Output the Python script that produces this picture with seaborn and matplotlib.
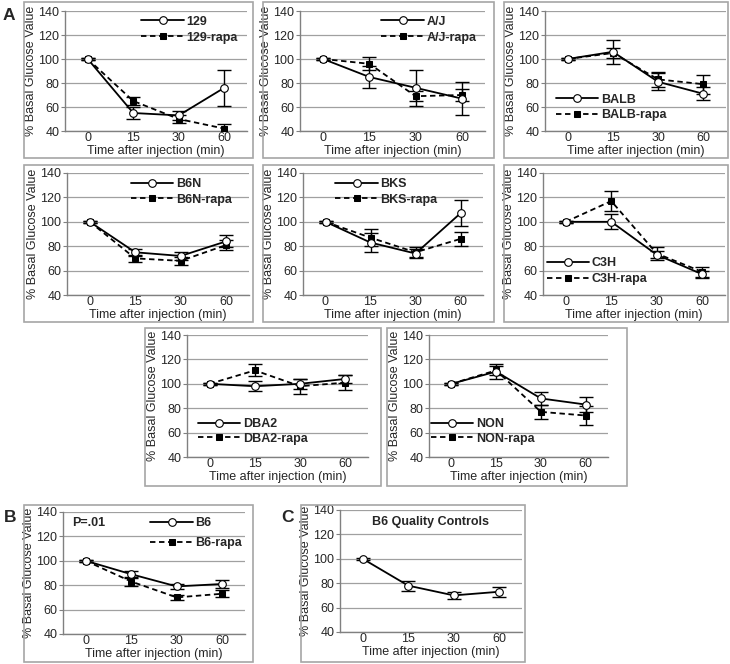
import numpy as np
import matplotlib
matplotlib.use("Agg")
import matplotlib.pyplot as plt
from matplotlib.patches import Rectangle
import seaborn as sns

# Data: mean and error for each strain
times = ["0", "15", "30", "60"]

s129 = [100, 55, 53, 76]
s129_err = [1, 5, 4, 15]
s129_rapa = [100, 65, 50, 42]
s129_rapa_err = [1, 3, 3, 4]

aj = [100, 85, 76, 67]
aj_err = [1, 9, 15, 13.5]
aj_rapa = [100, 96, 69, 70]
aj_rapa_err = [1, 5.5, 4, 5]

balb = [100, 106, 81, 71]
balb_err = [1, 10, 7, 5.5]
balb_rapa = [100, 105, 83, 79]
balb_rapa_err = [1, 4.5, 6, 8]

b6n = [100, 75, 72, 84]
b6n_err = [1, 3, 3, 5]
b6n_rapa = [100, 70, 68, 81]
b6n_rapa_err = [1, 3, 3, 4]

bks = [100, 83, 74, 107]
bks_err = [1, 8, 4, 10.5]
bks_rapa = [100, 87, 75, 86]
bks_rapa_err = [1, 7, 4, 5.5]

c3h = [100, 100, 73, 57]
c3h_err = [1, 6, 3, 3]
c3h_rapa = [100, 117, 74, 59]
c3h_rapa_err = [1, 8, 5, 4]

dba2 = [100, 98, 100, 104]
dba2_err = [1, 4, 4, 3]
dba2_rapa = [100, 111, 98, 101]
dba2_rapa_err = [1, 5, 6, 6]

non = [100, 110, 88, 83]
non_err = [1, 6, 5, 6]
non_rapa = [100, 111, 77, 74]
non_rapa_err = [1, 4, 6, 8]

b6 = [100, 89, 79, 81]
b6_err = [1, 3, 2, 3]
b6_rapa = [100, 83, 70, 73]
b6_rapa_err = [1, 4, 2, 3]

b6_qc = [100, 78, 70, 73]
b6_qc_err = [1, 4, 3, 4]

W, H = 730, 664
FS = 9
sns.set_style("white")
plt.rcParams["font.family"] = ["Liberation Sans", "DejaVu Sans"]

fig = plt.figure(figsize=(W / 100, H / 100), dpi=100)
xpos = np.arange(len(times))


def box(x0, y0, x1, y1):
    fig.add_artist(Rectangle((x0 / W, 1 - y1 / H), (x1 - x0) / W, (y1 - y0) / H,
                             transform=fig.transFigure, fill=False,
                             ec="#a6a6a6", lw=1.2))


def panel(l, r, t, b, series, leg=None):
    ax = fig.add_axes([l / W, 1 - b / H, (r - l) / W, (b - t) / H])
    for name, vals, err, dashed in series:
        if dashed:
            sns.lineplot(x=xpos, y=vals, ax=ax, color="k", lw=1.3,
                         linestyle=(0, (3, 2)), marker="s", markersize=5,
                         mfc="k", mec="k", label=name, zorder=3)
        else:
            sns.lineplot(x=xpos, y=vals, ax=ax, color="k", lw=1.3,
                         linestyle="-", marker="o", markersize=5.5,
                         mfc="white", mec="k", mew=0.8, label=name, zorder=4)
        ax.errorbar(xpos, vals, yerr=err, fmt="none", ecolor="k",
                    elinewidth=1, capsize=5, capthick=1, zorder=2)
    ax.set_xlim(-0.5, 3.5)
    ax.set_ylim(40, 140)
    ax.set_yticks(range(40, 141, 20))
    ax.set_xticks(xpos)
    ax.set_xticklabels(times)
    ax.set_xticks([0.5, 1.5, 2.5, 3.5], minor=True)
    ax.tick_params(axis="x", which="major", length=0, pad=1, labelsize=FS)
    ax.tick_params(axis="x", which="minor", length=3, color="#808080",
                   direction="out")
    ax.tick_params(axis="y", length=3, color="#808080", direction="out",
                   pad=1, labelsize=FS, left=True)
    ax.grid(axis="y", color="#a0a0a0", lw=0.9)
    ax.set_axisbelow(True)
    for s in ["top", "right"]:
        ax.spines[s].set_visible(False)
    for s in ["left", "bottom"]:
        ax.spines[s].set_color("#808080")
        ax.spines[s].set_linewidth(1)
    ax.set_xlabel("Time after injection (min)", fontsize=FS, labelpad=0.5)
    ax.set_ylabel("% Basal Glucose Value", fontsize=FS, labelpad=1)
    if leg is not None:
        ax.legend(loc=leg[0], bbox_to_anchor=leg[1], frameon=False,
                  prop={"weight": "bold", "size": FS}, handlelength=3.4,
                  handletextpad=0.2, labelspacing=leg[2], borderaxespad=0,
                  borderpad=0)
    elif ax.get_legend():
        ax.get_legend().remove()
    return ax


# row 1
box(24, 2, 253, 158)
panel(65, 247, 11, 131,
      [("129", s129, s129_err, False), ("129-rapa", s129_rapa, s129_rapa_err, True)],
      ("upper left", (0.42, 0.96), 0.3))
box(263, 2, 494, 158)
panel(300, 485, 11, 131,
      [("A/J", aj, aj_err, False), ("A/J-rapa", aj_rapa, aj_rapa_err, True)],
      ("upper left", (0.44, 0.96), 0.3))
box(504, 2, 728, 158)
panel(545, 726, 11, 131,
      [("BALB", balb, balb_err, False), ("BALB-rapa", balb_rapa, balb_rapa_err, True)],
      ("lower left", (0.06, 0.08), 0.3))

# row 2
box(24, 165, 253, 322)
panel(67, 249, 173, 295,
      [("B6N", b6n, b6n_err, False), ("B6N-rapa", b6n_rapa, b6n_rapa_err, True)],
      ("upper left", (0.35, 0.96), 0.3))
box(263, 165, 494, 322)
panel(303, 483, 173, 295,
      [("BKS", bks, bks_err, False), ("BKS-rapa", bks_rapa, bks_rapa_err, True)],
      ("upper left", (0.18, 0.96), 0.3))
box(504, 165, 728, 322)
panel(543, 725, 173, 295,
      [("C3H", c3h, c3h_err, False), ("C3H-rapa", c3h_rapa, c3h_rapa_err, True)],
      ("lower left", (0.02, 0.08), 0.3))

# row 3
box(145, 328, 381, 486)
panel(187, 368, 335, 457,
      [("DBA2", dba2, dba2_err, False), ("DBA2-rapa", dba2_rapa, dba2_rapa_err, True)],
      ("lower left", (0.06, 0.1), 0.2))
box(387, 328, 627, 486)
panel(429, 608, 335, 457,
      [("NON", non, non_err, False), ("NON-rapa", non_rapa, non_rapa_err, True)],
      ("lower left", (0.01, 0.1), 0.2))

# row 4: B and C
box(24, 505, 253, 662)
axb = panel(63, 245, 512, 634,
            [("B6", b6, b6_err, False), ("B6-rapa", b6_rapa, b6_rapa_err, True)],
            ("upper left", (0.48, 0.96), 0.65))
axb.text(0.05, 0.91, "P=.01", transform=axb.transAxes, fontsize=FS,
         fontweight="bold", va="center")
box(301, 505, 525, 662)
axc = panel(340, 522, 510, 632, [("B6 QC", b6_qc, b6_qc_err, False)])
axc.text(0.5, 0.9, "B6 Quality Controls", transform=axc.transAxes,
         fontsize=FS, fontweight="bold", ha="center", va="center")

# panel letters
fig.text(9 / W, 1 - 16 / H, "A", fontsize=12.5, fontweight="bold", ha="center", va="center")
fig.text(10 / W, 1 - 517 / H, "B", fontsize=12.5, fontweight="bold", ha="center", va="center")
fig.text(287 / W, 1 - 518 / H, "C", fontsize=12.5, fontweight="bold", ha="center", va="center")

fig.savefig("out.png", dpi=100)
